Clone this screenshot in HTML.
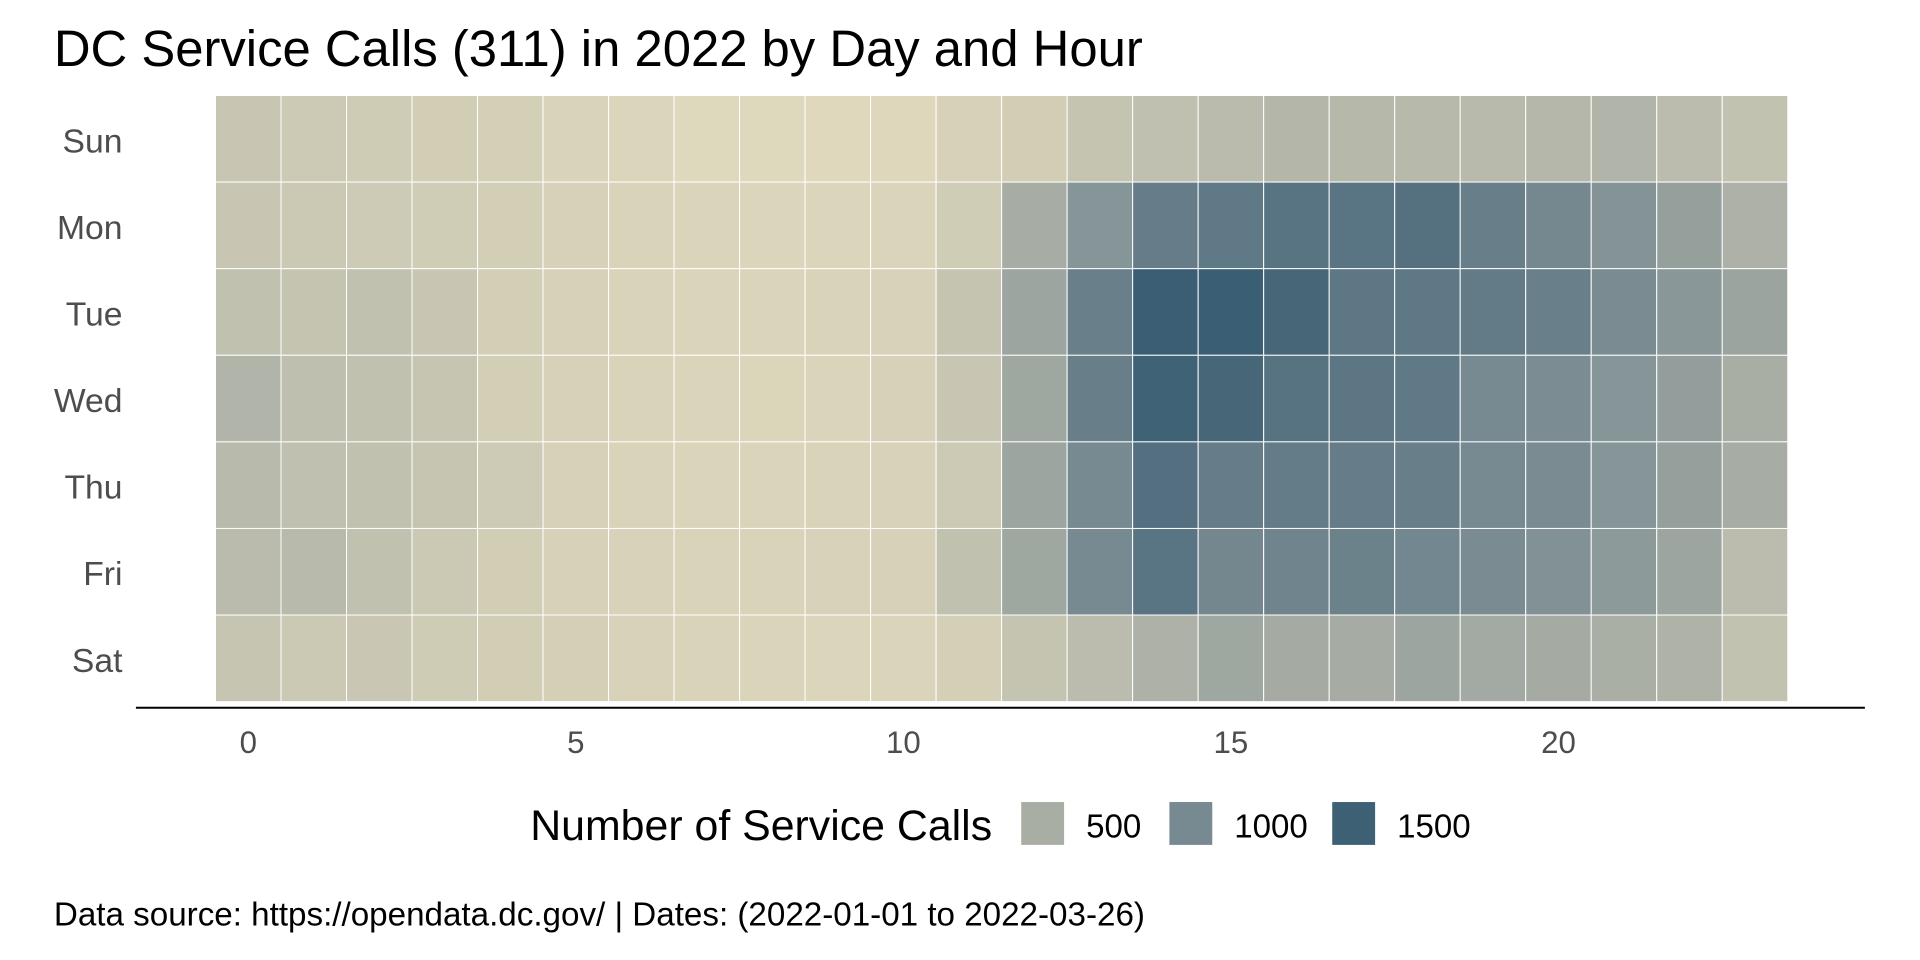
<!DOCTYPE html>
<html><head><meta charset="utf-8"><style>
html,body{margin:0;padding:0;background:#fff;}
svg{display:block;font-family:"Liberation Sans",Arial,sans-serif;}
</style></head><body>
<svg id="chart" width="1920" height="960" viewBox="0 0 1568 784" xmlns="http://www.w3.org/2000/svg">
<text x="44" y="54" font-size="41.5" fill="#000">DC Service Calls (311) in 2022 by Day and Hour</text>
<g id="cells"></g>
<line x1="111" y1="578" x2="1523" y2="578" stroke="#000" stroke-width="1.6"/>
<g id="xticks"></g>
<g id="yticks"></g>
<g>
<text x="433" y="686" font-size="35" fill="#000">Number of Service Calls</text>
<g id="legend-keys"></g>
</g>
<text x="44" y="756" font-size="27.1" fill="#000">Data source: https://opendata.dc.gov/ | Dates: (2022-01-01 to 2022-03-26)</text>
</svg>
<script>
const days = ["Sun","Mon","Tue","Wed","Thu","Fri","Sat"];
const hours = [0,1,2,3,4,5,6,7,8,9,10,11,12,13,14,15,16,17,18,19,20,21,22,23];
const xTickLabels = [0,5,10,15,20];
const legendValues = [500,1000,1500];
const sunVals = [280,250,230,210,190,165,140,120,120,115,125,180,210,300,340,380,430,410,400,390,420,445,370,320];
const monVals = [280,260,240,220,200,180,160,150,140,140,150,220,520,850,1150,1200,1270,1260,1300,1130,1020,880,700,470];
const tueVals = [330,300,330,280,200,180,160,150,150,160,170,300,620,1120,1540,1560,1420,1230,1220,1180,1120,970,820,640];
const wedVals = [440,350,330,290,200,180,160,150,145,150,180,280,600,1130,1480,1420,1280,1240,1200,1000,960,850,720,500];
const thuVals = [390,340,330,290,240,180,160,150,150,160,170,250,620,1000,1310,1150,1170,1150,1130,1000,970,850,700,520];
const friVals = [380,390,330,260,210,180,170,160,160,170,180,330,600,1000,1260,1030,1070,1100,1040,970,900,780,620,370];
const satVals = [290,260,270,230,210,190,170,160,150,140,150,190,300,370,470,600,540,530,620,560,540,490,460,320];
const values = [sunVals,monVals,tueVals,wedVals,thuVals,friVals,satVals];

const NS="http://www.w3.org/2000/svg";
const plotL=176, plotR=1460, plotT=78, plotB=573;
const cw=(plotR-plotL)/hours.length, ch=(plotB-plotT)/days.length;
function xScale(h){return plotL+(h+0.5)*cw;}
function yScale(i){return plotT+i*ch;}
const stops=[[100,[225,218,189]],[500,[169,174,165]],[1000,[119,138,145]],[1500,[62,96,117]],[1700,[50,88,112]]];
function color(v){
  if(v<=stops[0][0]) return "rgb("+stops[0][1].join(",")+")";
  for(let i=0;i<stops.length-1;i++){
    const [a,ca]=stops[i],[b,cb]=stops[i+1];
    if(v<=b){const t=(v-a)/(b-a);return "rgb("+ca.map((c,k)=>Math.round(c+(cb[k]-c)*t)).join(",")+")";}
  }
  return "rgb("+stops[stops.length-1][1].join(",")+")";
}
function mk(tag,attrs,parent){const e=document.createElementNS(NS,tag);for(const k in attrs)e.setAttribute(k,attrs[k]);parent.appendChild(e);return e;}

const cells=document.getElementById("cells");
days.forEach((d,i)=>{
  hours.forEach((h,j)=>{
    const r=mk("rect",{x:xScale(h)-cw/2,y:yScale(i),width:cw,height:ch,fill:color(values[i][j]),stroke:"#fff","stroke-width":0.8},cells);
    
    
  });
  const t=mk("text",{x:100,y:yScale(i)+ch/2+11,"font-size":27.5,fill:"#4d4d4d","text-anchor":"end"},document.getElementById("yticks"));
  t.textContent=d;
  
  
});
xTickLabels.forEach(v=>{
  const t=mk("text",{x:xScale(v),y:615,"font-size":25.5,fill:"#4d4d4d","text-anchor":"middle"},document.getElementById("xticks"));
  t.textContent=v;
  
  
});
const lk=document.getElementById("legend-keys");
const keyX=[834,955,1088];
legendValues.forEach((v,i)=>{
  const r=mk("rect",{x:keyX[i],y:655,width:35,height:35,fill:color(v)},lk);
  
  
  const t=mk("text",{x:keyX[i]+53,y:684,"font-size":27,fill:"#000"},lk);
  t.textContent=v;
  
  
});
</script>
</body></html>
